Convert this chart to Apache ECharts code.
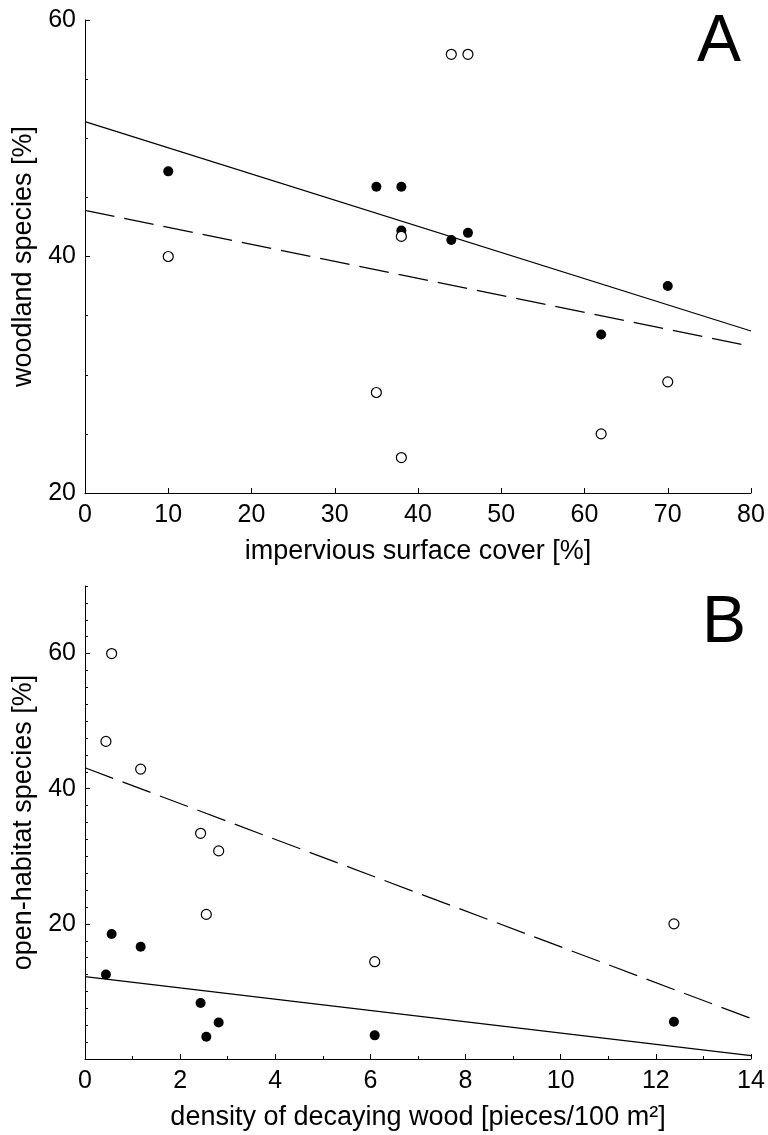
<!DOCTYPE html>
<html>
<head>
<meta charset="utf-8">
<script src="https://cdn.jsdelivr.net/npm/echarts@6/dist/echarts.min.js"></script>
<style>
  html, body { margin: 0; padding: 0; background: #fff; }
  #chart { width: 768px; height: 1135px; }
</style>
</head>
<body>
<div id="chart"></div>
<script>
// panel A: woodland species vs impervious surface cover
const coverFilled = [[10, 47.2], [35, 45.9], [38, 45.9], [38, 42.2], [44, 41.4], [46, 42.0], [62, 33.4], [70, 37.5]];
const coverOpen = [[10, 40.0], [35, 28.5], [38, 41.7], [38, 23.0], [44, 57.1], [46, 57.1], [62, 25.0], [70, 29.4]];
const coverSolidFit = [[0, 51.4], [80, 33.7]];
const coverDashedFit = [[0, 43.9], [80, 32.4]];

// panel B: open-habitat species vs density of decaying wood
const woodFilled = [[0.44, 12.5], [0.56, 18.5], [1.17, 16.6], [2.43, 8.3], [2.55, 3.3], [2.81, 5.4], [6.09, 3.5], [12.38, 5.5]];
const woodOpen = [[0.44, 47.0], [0.56, 60.0], [1.17, 42.9], [2.43, 33.4], [2.55, 21.4], [2.81, 30.8], [6.09, 14.4], [12.38, 20.0]];
const woodSolidFit = [[0, 12.2], [14, 0.5]];
const woodDashedFit = [[0, 43.1], [14, 6.0]];

const panelLetters = ['A', 'B'];
const xTitles = ['impervious surface cover [%]', 'density of decaying wood [pieces/100 m²]'];
const yTitles = ['woodland species [%]', 'open-habitat species [%]'];

const font = 'Liberation Sans, Arial, sans-serif';
const black = '#000';

const baseAxis = {
  type: 'value',
  splitLine: { show: false },
  axisLine: { lineStyle: { color: black, width: 1 } },
  axisTick: { inside: true, length: 5, lineStyle: { color: black } },
  axisLabel: { color: black, fontSize: 25, fontFamily: font },
  nameLocation: 'middle',
  nameTextStyle: { color: black, fontSize: 27, fontFamily: font }
};

function scatter(data, xi, yi, open) {
  return {
    type: 'scatter',
    xAxisIndex: xi,
    yAxisIndex: yi,
    data: data,
    symbol: 'circle',
    symbolSize: 10,
    z: 5,
    itemStyle: open
      ? { color: '#fff', borderColor: black, borderWidth: 1.2, opacity: 1 }
      : { color: black, borderColor: black, borderWidth: 0, opacity: 1 }
  };
}

function fit(data, xi, yi, dashed) {
  return {
    type: 'line',
    xAxisIndex: xi,
    yAxisIndex: yi,
    data: data,
    symbol: 'none',
    z: 3,
    lineStyle: { color: black, width: 1.2, type: dashed ? [30, 10] : 'solid' }
  };
}

const chart = echarts.init(document.getElementById('chart'), null, { renderer: 'canvas' });

chart.setOption({
  backgroundColor: '#fff',
  animation: false,
  grid: [
    { left: 85, top: 20, width: 666, height: 473 },
    { left: 85, top: 586, width: 666, height: 473 }
  ],
  xAxis: [
    Object.assign({}, baseAxis, {
      gridIndex: 0, min: 0, max: 80, interval: 10,
      name: xTitles[0], nameGap: 45,
      axisLabel: Object.assign({}, baseAxis.axisLabel, { margin: 10 })
    }),
    Object.assign({}, baseAxis, {
      gridIndex: 1, min: 0, max: 14, interval: 2,
      name: xTitles[1], nameGap: 45,
      axisLabel: Object.assign({}, baseAxis.axisLabel, { margin: 10 }),
      minorTick: { show: true, splitNumber: 2, length: 3, lineStyle: { color: black } }
    })
  ],
  yAxis: [
    Object.assign({}, baseAxis, {
      gridIndex: 0, min: 20, max: 60, interval: 20, position: 'left',
      name: yTitles[0], nameGap: 47,
      axisLabel: Object.assign({}, baseAxis.axisLabel, { margin: 9 }),
      minorTick: { show: true, splitNumber: 4, length: 3, lineStyle: { color: black } }
    }),
    Object.assign({}, baseAxis, {
      gridIndex: 1, min: 0, max: 70, interval: 20, position: 'left',
      name: yTitles[1], nameGap: 47,
      axisLabel: Object.assign({}, baseAxis.axisLabel, { margin: 9, showMinLabel: false, showMaxLabel: false })
    }),
    // minor ticks every 2.5 on panel B
    {
      type: 'value', gridIndex: 1, min: 0, max: 70, interval: 2.5,
      position: 'left', offset: 0,
      splitLine: { show: false },
      axisLine: { show: false },
      axisLabel: { show: false },
      axisTick: { inside: true, length: 3, lineStyle: { color: black } }
    }
  ],
  graphic: [
    { type: 'text', left: 697, top: 10, style: { text: panelLetters[0], font: '66px ' + font, fill: black } },
    { type: 'text', left: 702, top: 591, style: { text: panelLetters[1], font: '66px ' + font, fill: black } }
  ],
  series: [
    fit(coverSolidFit, 0, 0, false),
    fit(coverDashedFit, 0, 0, true),
    scatter(coverFilled, 0, 0, false),
    scatter(coverOpen, 0, 0, true),
    fit(woodSolidFit, 1, 1, false),
    fit(woodDashedFit, 1, 1, true),
    scatter(woodFilled, 1, 1, false),
    scatter(woodOpen, 1, 1, true)
  ]
});
</script>
</body>
</html>
